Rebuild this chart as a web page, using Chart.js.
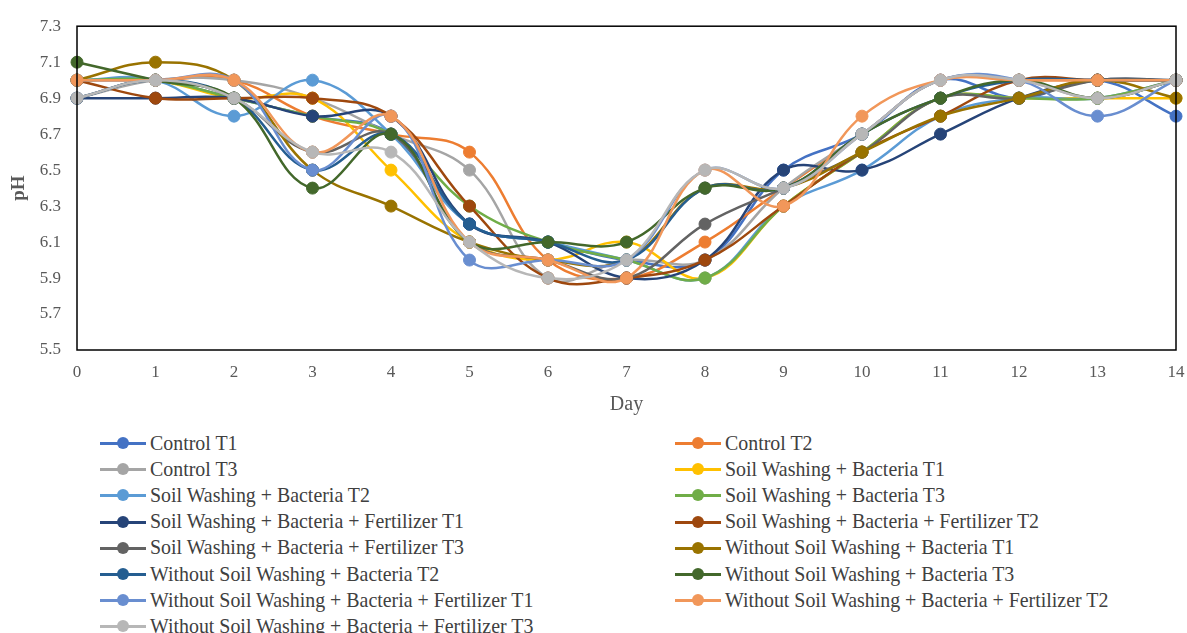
<!DOCTYPE html>
<html lang="en">
<head>
  <meta charset="UTF-8">
  <title>pH over days</title>
  <script src="https://cdn.jsdelivr.net/npm/chart.js@4.4.0/dist/chart.umd.min.js"></script>
  <style>
    body {
      margin: 0;
      background: #fff;
      font-family: 'Liberation Serif', 'Times New Roman', serif;
    }
    .wrap {
      position: relative;
      width: 1187px;
      height: 633px;
      overflow: hidden;
    }
    #legend {
      position: absolute;
      top: 430px;
      left: 100px;
      display: grid;
      grid-template-columns: 575px 500px;
      grid-auto-rows: 26.2px;
      color: #404040;
      font-size: 19.9px;
    }
    .item {
      display: flex;
      align-items: center;
      white-space: nowrap;
    }
    .swatch {
      position: relative;
      width: 46px;
      height: 12px;
      margin-right: 4px;
    }
    .swatch .ln {
      position: absolute;
      left: 0; right: 0; top: 5px;
      height: 3px;
    }
    .swatch .dot {
      position: absolute;
      left: 17px; top: 0;
      width: 12px; height: 12px;
      border-radius: 50%;
    }
  </style>
</head>
<body>
  <div class="wrap">
    <canvas id="phChart" width="1187" height="425"></canvas>
    <div id="legend"></div>
  </div>

  <script>
    const days = ['0','1','2','3','4','5','6','7','8','9','10','11','12','13','14'];

    const seriesNames = [
      'Control T1', 'Control T2', 'Control T3',
      'Soil Washing + Bacteria T1', 'Soil Washing + Bacteria T2', 'Soil Washing + Bacteria T3',
      'Soil Washing + Bacteria + Fertilizer T1', 'Soil Washing + Bacteria + Fertilizer T2', 'Soil Washing + Bacteria + Fertilizer T3',
      'Without Soil Washing + Bacteria T1', 'Without Soil Washing + Bacteria T2', 'Without Soil Washing + Bacteria T3',
      'Without Soil Washing + Bacteria + Fertilizer T1', 'Without Soil Washing + Bacteria + Fertilizer T2', 'Without Soil Washing + Bacteria + Fertilizer T3'
    ];

    const seriesColors = [
      '#4472C4', '#ED7D31', '#A5A5A5',
      '#FFC000', '#5B9BD5', '#70AD47',
      '#264478', '#9E480E', '#636363',
      '#997300', '#255E91', '#43682B',
      '#698ED0', '#F1975A', '#B7B7B7'
    ];

    // values (many markers are hidden, so estimated)
    const controlT1   = [7.0, 7.0, 6.9, 6.8, 6.7, 6.2, 6.1, 6.0, 6.0, 6.5, 6.7, 7.0, 6.9, 7.0, 6.8];
    const controlT2   = [7.0, 7.0, 7.0, 6.8, 6.7, 6.6, 6.0, 5.9, 6.1, 6.4, 6.7, 7.0, 7.0, 7.0, 7.0];
    const controlT3   = [6.9, 7.0, 7.0, 6.9, 6.7, 6.5, 5.9, 6.0, 6.0, 6.4, 6.7, 7.0, 7.0, 6.9, 7.0];
    const swbT1       = [7.0, 7.0, 6.9, 6.9, 6.5, 6.1, 6.0, 6.1, 5.9, 6.3, 6.6, 6.9, 6.9, 6.9, 6.9];
    const swbT2       = [7.0, 7.0, 6.8, 7.0, 6.7, 6.2, 6.1, 6.0, 5.9, 6.3, 6.5, 6.8, 6.9, 6.9, 7.0];
    const swbT3       = [7.0, 7.0, 6.9, 6.8, 6.7, 6.3, 6.1, 6.0, 5.9, 6.3, 6.6, 6.9, 6.9, 6.9, 7.0];
    const swbfT1      = [6.9, 6.9, 6.9, 6.8, 6.8, 6.2, 6.1, 5.9, 6.0, 6.5, 6.5, 6.7, 6.9, 7.0, 7.0];
    const swbfT2      = [7.0, 6.9, 6.9, 6.9, 6.8, 6.3, 5.9, 5.9, 6.0, 6.3, 6.6, 6.8, 7.0, 7.0, 7.0];
    const swbfT3      = [6.9, 7.0, 6.9, 6.6, 6.7, 6.1, 6.0, 5.9, 6.2, 6.4, 6.6, 6.9, 6.9, 7.0, 7.0];
    const wswbT1      = [7.0, 7.1, 7.0, 6.5, 6.3, 6.1, 6.0, 6.0, 6.4, 6.4, 6.6, 6.8, 6.9, 7.0, 6.9];
    const wswbT2      = [6.9, 7.0, 6.9, 6.5, 6.7, 6.2, 6.1, 6.0, 6.4, 6.4, 6.7, 6.9, 7.0, 7.0, 7.0];
    const wswbT3      = [7.1, 7.0, 6.9, 6.4, 6.7, 6.1, 6.1, 6.1, 6.4, 6.4, 6.7, 6.9, 7.0, 6.9, 7.0];
    const wswbfT1     = [7.0, 7.0, 7.0, 6.5, 6.8, 6.0, 6.0, 6.0, 6.5, 6.4, 6.7, 7.0, 7.0, 6.8, 7.0];
    const wswbfT2     = [7.0, 7.0, 7.0, 6.6, 6.8, 6.1, 6.0, 5.9, 6.5, 6.3, 6.8, 7.0, 7.0, 7.0, 7.0];
    const wswbfT3     = [6.9, 7.0, 6.9, 6.6, 6.6, 6.1, 5.9, 6.0, 6.5, 6.4, 6.7, 7.0, 7.0, 6.9, 7.0];

    const allSeries = [controlT1, controlT2, controlT3, swbT1, swbT2, swbT3,
      swbfT1, swbfT2, swbfT3, wswbT1, wswbT2, wswbT3, wswbfT1, wswbfT2, wswbfT3];

    const yMin = 5.5, yMax = 7.3, yStep = 0.2;

    const datasets = allSeries.map((data, i) => ({
      label: seriesNames[i],
      data,
      borderColor: seriesColors[i],
      backgroundColor: seriesColors[i],
      pointBackgroundColor: seriesColors[i],
      pointBorderColor: seriesColors[i],
      borderWidth: 2.5,
      pointRadius: 6,
      pointBorderWidth: 1,
      tension: 0.4,
      fill: false,
      order: allSeries.length - i // later series on top, like Excel
    }));

    // box around the plot area
    const frame = {
      id: 'frame',
      afterDraw(chart) {
        const { ctx, chartArea: a } = chart;
        ctx.save();
        ctx.strokeStyle = '#000';
        ctx.lineWidth = 1.5;
        ctx.strokeRect(a.left, a.top, a.right - a.left, a.bottom - a.top);
        ctx.restore();
      }
    };

    const tickFont = { family: "'Liberation Serif', serif", size: 17 };

    new Chart(document.getElementById('phChart').getContext('2d'), {
      type: 'line',
      data: { labels: days, datasets },
      plugins: [frame],
      options: {
        responsive: false,
        animation: false,
        layout: { padding: { top: 21, right: 11, left: 0, bottom: 0 } },
        plugins: {
          legend: { display: false },
          tooltip: { enabled: false }
        },
        scales: {
          x: {
            grid: { display: false, drawTicks: false },
            border: { display: false },
            ticks: { color: '#595959', font: tickFont, padding: 12, maxRotation: 0 },
            title: { display: true, text: 'Day', color: '#595959', font: { family: "'Liberation Serif', serif", size: 20 }, padding: { top: 4, bottom: 8 } },
            afterFit(scale) {
              scale.height = 75;
              scale.paddingLeft = 0;
              scale.paddingRight = 0;
            }
          },
          y: {
            min: yMin,
            max: yMax,
            grid: { display: false, drawTicks: false },
            border: { display: false },
            ticks: {
              stepSize: yStep,
              color: '#595959',
              font: tickFont,
              padding: 16,
              callback: v => v.toFixed(1)
            },
            title: { display: true, text: 'pH', color: '#595959', font: { family: "'Liberation Serif', serif", size: 19, weight: 'bold' }, padding: { top: 8, bottom: 4 } },
            afterFit(scale) { scale.width = 77; }
          }
        }
      }
    });

    // legend in two columns, as in the original
    const legend = document.getElementById('legend');
    seriesNames.forEach((name, i) => {
      const item = document.createElement('div');
      item.className = 'item';
      item.innerHTML = `<span class="swatch"><span class="ln" style="background:${seriesColors[i]}"></span><span class="dot" style="background:${seriesColors[i]}"></span></span><span>${name}</span>`;
      legend.appendChild(item);
    });
  </script>
</body>
</html>
